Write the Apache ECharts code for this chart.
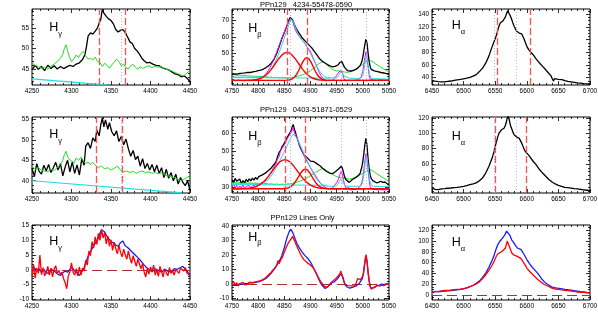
<!DOCTYPE html>
<html><head><meta charset="utf-8">
<script src="https://cdn.jsdelivr.net/npm/echarts@6/dist/echarts.min.js"></script>
<style>html,body{margin:0;padding:0;background:#fff}#c{width:598px;height:321px}</style>
</head><body><div id="c"></div>
<script>
// ---------- tick labels ----------
const xTicksHg = [4250,4300,4350,4400,4450];
const xTicksHb = [4750,4800,4850,4900,4950,5000,5050];
const xTicksHa = [6450,6500,6550,6600,6650,6700];
const yTicksP1 = [45,50,55];
const yTicksP2 = [40,50,60,70];
const yTicksP3 = [40,60,80,100,120,140];
const yTicksP4 = [40,45,50,55];
const yTicksP5 = [30,40,50,60];
const yTicksP6 = [40,60,80,100,120];
const yTicksP7 = [-10,-5,0,5,10,15];
const yTicksP8 = [-10,0,10,20,30,40];
const yTicksP9 = [0,20,40,60,80,100,120];

// ---------- titles ----------
const title1 = 'PPn129   4234-55478-0590';
const title2 = 'PPn129   0403-51871-0529';
const title3 = 'PPn129 Lines Only';

// ---------- Hgamma, spectrum 1 ----------
const hg1Black = [[4250,44.8],[4254,45.9],[4258,44.9],[4262,45.6],[4266,44.6],[4270,45.9],[4274,45.1],[4278,45.8],[4282,45.0],[4286,45.6],[4290,45.1],[4294,45.5],[4298,45.9],[4302,45.6],[4306,46.2],[4310,46.5],[4314,47.3],[4317,48.5],[4319,50.5],[4321,53.0],[4324,53.8],[4327,53.5],[4330,54.2],[4333,55.0],[4335,56.2],[4337,57.0],[4339,59.5],[4341,58.6],[4344,57.8],[4347,57.2],[4350,56.8],[4353,56.0],[4356,54.6],[4359,54.0],[4362,54.4],[4365,54.6],[4368,53.9],[4371,52.8],[4374,51.6],[4377,51.2],[4380,50.0],[4383,49.4],[4386,48.6],[4389,47.6],[4392,47.0],[4395,46.5],[4399,46.6],[4403,46.2],[4407,45.9],[4411,45.8],[4415,45.3],[4419,45.0],[4423,44.8],[4427,44.3],[4431,43.8],[4435,43.6],[4439,43.1],[4443,43.3],[4447,42.6],[4450,41.9]];
const hg1Green = [[4250,46.5],[4254,45.9],[4258,45.6],[4262,45.2],[4266,45.4],[4270,45.0],[4274,45.6],[4278,46.2],[4282,46.8],[4286,47.6],[4289,48.6],[4291,50.0],[4293,50.9],[4295,49.5],[4297,48.0],[4300,46.8],[4303,47.5],[4306,48.4],[4309,47.8],[4312,48.8],[4315,49.3],[4318,48.2],[4321,47.4],[4324,47.6],[4327,47.2],[4330,47.9],[4333,46.8],[4336,46.6],[4339,45.6],[4342,46.4],[4345,45.9],[4348,45.2],[4351,46.0],[4354,46.6],[4357,47.4],[4360,46.8],[4363,45.8],[4366,46.2],[4369,45.3],[4372,45.0],[4375,45.8],[4378,46.1],[4381,45.4],[4384,44.9],[4387,45.6],[4390,45.1],[4394,45.5],[4398,45.8],[4402,45.3],[4406,45.7],[4410,45.4],[4414,45.6],[4418,45.0],[4422,44.8],[4426,44.6],[4430,44.2],[4434,43.9],[4438,43.6],[4442,43.3],[4446,44.0],[4450,44.6]];
const hg1Cyan = [[4250,42.6],[4344,41.15]];
const hg1RedDash = [4334.6,4368];
const hg1BlueDot = [4362.5];

// ---------- Hgamma, spectrum 2 ----------
const hg2Black = [[4250,43.1],[4253,41.0],[4256,44.2],[4259,42.3],[4262,41.6],[4265,43.8],[4268,42.4],[4271,44.0],[4274,42.0],[4277,43.2],[4280,44.5],[4283,42.6],[4286,44.2],[4289,41.2],[4292,43.4],[4295,45.0],[4298,42.2],[4301,44.6],[4304,41.8],[4307,43.9],[4310,41.4],[4313,45.4],[4316,43.8],[4318,48.5],[4321,49.3],[4324,47.9],[4327,50.5],[4330,49.6],[4332,52.4],[4335,51.0],[4337,53.6],[4339,55.4],[4341,53.2],[4343,54.9],[4346,52.6],[4348,54.2],[4351,52.0],[4354,51.0],[4357,52.2],[4360,49.6],[4363,50.8],[4366,48.8],[4369,50.2],[4372,47.8],[4375,46.0],[4378,47.4],[4381,45.2],[4384,46.0],[4387,43.6],[4390,45.4],[4393,43.0],[4396,44.2],[4399,42.6],[4402,44.0],[4405,42.2],[4408,43.8],[4411,41.8],[4414,43.2],[4417,40.8],[4420,42.8],[4423,40.6],[4426,42.0],[4429,40.0],[4432,41.6],[4435,39.2],[4438,40.8],[4441,39.6],[4444,38.8],[4447,40.0],[4450,37.6]];
const hg2Green = [[4250,43.6],[4254,42.8],[4258,43.2],[4262,42.6],[4266,42.4],[4270,42.2],[4274,42.8],[4278,42.5],[4282,43.2],[4286,44.0],[4289,45.0],[4291,46.4],[4293,47.2],[4295,46.0],[4297,45.2],[4300,44.9],[4303,44.3],[4306,45.6],[4309,45.0],[4312,45.8],[4315,44.8],[4318,44.2],[4321,44.6],[4324,43.9],[4327,44.5],[4330,43.8],[4334,43.2],[4338,43.6],[4342,42.9],[4346,43.2],[4350,42.6],[4354,43.0],[4358,43.6],[4362,42.6],[4366,42.2],[4370,42.4],[4374,42.0],[4378,42.3],[4382,41.8],[4386,42.2],[4390,42.4],[4394,41.9],[4398,42.2],[4402,41.8],[4406,42.0],[4410,41.7],[4414,41.9],[4418,41.4],[4422,41.2],[4426,41.0],[4430,40.8],[4434,40.4],[4438,40.1],[4442,40.3],[4446,40.8],[4450,41.2]];
const hg2Cyan = [[4250,40.0],[4440,37.05]];
const hg2RedDash = [4331,4364.5];
const hg2BlueDot = [4362.5];

// ---------- Hgamma, lines only ----------
const hgLineBlue = [[4250,-0.6],[4253,0.8],[4256,-0.4],[4259,0.4],[4262,-0.8],[4265,0.2],[4268,-0.9],[4271,-1.2],[4274,0.3],[4277,-0.2],[4280,-0.8],[4283,-1.5],[4286,-1.9],[4289,-1.0],[4292,-0.4],[4295,-0.8],[4298,0.2],[4301,0.8],[4304,-0.4],[4307,-1.0],[4310,-1.9],[4313,-0.6],[4316,0.8],[4318,2.4],[4321,4.6],[4324,6.2],[4327,7.6],[4330,9.0],[4333,10.2],[4336,12.4],[4338,13.6],[4340,14.2],[4342,12.8],[4344,11.8],[4347,10.6],[4350,9.6],[4353,9.2],[4356,8.4],[4359,8.0],[4362,9.2],[4365,9.8],[4368,8.2],[4371,7.6],[4374,6.8],[4377,6.0],[4380,5.2],[4383,4.4],[4386,3.6],[4389,2.6],[4392,1.6],[4395,0.8],[4398,0.2],[4402,-0.6],[4406,0.4],[4410,-0.2],[4414,-0.8],[4418,0.2],[4422,-0.4],[4426,-0.8],[4430,0.4],[4434,0.2],[4438,0.8],[4441,1.2],[4444,0.2],[4447,-0.6],[4450,-2.4]];
const hgLineRed = [[4250,-2.2],[4252,1.8],[4254,-2.8],[4256,0.6],[4258,-1.2],[4260,5.0],[4262,-1.6],[4264,0.8],[4266,-2.0],[4268,-1.0],[4270,1.2],[4272,-1.8],[4274,0.6],[4276,-2.4],[4278,0.2],[4280,1.4],[4282,-1.2],[4284,-0.2],[4286,-1.6],[4288,-0.8],[4290,-3.0],[4292,-4.4],[4294,-6.4],[4296,-2.0],[4298,-0.6],[4300,2.4],[4302,-0.8],[4304,-1.8],[4306,0.4],[4308,-2.0],[4310,1.0],[4312,-1.8],[4314,0.6],[4316,-0.4],[4318,3.2],[4320,1.6],[4322,6.4],[4324,4.8],[4326,9.6],[4328,7.4],[4330,11.2],[4332,8.6],[4334,12.4],[4336,10.0],[4338,13.6],[4340,10.8],[4342,12.6],[4344,8.8],[4346,11.4],[4348,8.0],[4350,10.2],[4352,6.6],[4354,9.4],[4356,7.2],[4358,5.4],[4360,8.4],[4362,6.0],[4364,4.4],[4366,7.0],[4368,5.2],[4370,3.6],[4372,6.4],[4374,4.0],[4376,2.2],[4378,4.8],[4380,3.0],[4382,1.2],[4384,3.6],[4386,2.0],[4388,0.4],[4390,2.2],[4392,-0.8],[4394,-2.4],[4396,0.6],[4398,-1.4],[4400,1.0],[4402,-0.6],[4404,1.6],[4406,-1.8],[4408,0.2],[4410,-2.2],[4412,1.2],[4414,-0.6],[4416,-2.4],[4418,0.4],[4420,-1.0],[4422,-2.0],[4424,0.8],[4426,-1.2],[4428,-0.2],[4430,-1.8],[4432,0.2],[4434,-0.4],[4436,-1.2],[4438,0.6],[4440,0.2],[4442,-0.4],[4444,0.8],[4446,-1.0],[4448,-0.6],[4450,-2.0]];

// ---------- Hbeta, spectrum 1 ----------
const hb1Black = [[4750,37.2],[4755,37.5],[4760,37.3],[4765,37.8],[4770,37.9],[4775,38.1],[4780,38.4],[4785,38.3],[4790,38.7],[4795,39.0],[4800,39.4],[4805,39.8],[4810,40.4],[4815,41.3],[4820,42.4],[4825,44.0],[4830,46.2],[4835,49.6],[4840,54.0],[4845,58.6],[4850,62.6],[4855,66.8],[4858,69.6],[4861,71.8],[4863,72.6],[4866,70.2],[4869,67.6],[4872,65.6],[4875,63.8],[4878,62.2],[4881,60.8],[4884,59.4],[4887,58.4],[4890,57.4],[4893,56.4],[4896,55.4],[4899,54.4],[4902,53.4],[4905,52.4],[4908,50.8],[4911,49.6],[4914,48.2],[4917,46.8],[4920,45.8],[4923,45.0],[4926,44.4],[4929,43.8],[4932,43.0],[4935,42.6],[4938,42.2],[4941,41.8],[4944,41.9],[4947,42.0],[4950,42.4],[4953,43.0],[4956,44.4],[4958,45.2],[4960,45.0],[4962,43.4],[4965,41.4],[4968,40.2],[4971,39.4],[4974,39.0],[4977,39.2],[4980,39.5],[4983,39.8],[4986,40.2],[4989,40.6],[4992,41.4],[4995,42.6],[4998,44.8],[5000,47.6],[5002,51.6],[5004,55.6],[5006,58.6],[5008,56.2],[5010,50.2],[5012,45.2],[5014,41.8],[5016,40.2],[5019,39.6],[5022,39.3],[5026,39.0],[5030,38.7],[5035,38.3],[5040,38.0],[5045,37.6],[5050,37.1]];
const hb1Magenta = [[4750,33.8],[4753,34.6],[4756,33.2],[4759,34.2],[4762,33.6],[4765,34.8],[4768,33.4],[4771,34.0],[4774,33.2],[4777,34.4],[4780,33.6],[4783,34.0],[4786,33.3],[4789,34.3],[4792,33.8],[4795,34.2],[4798,34.0],[4801,34.6],[4804,35.0],[4807,35.4],[4810,36.0],[4813,37.0],[4816,38.0],[4819,39.4],[4822,41.0],[4825,42.8],[4828,44.8],[4831,47.2],[4834,49.6],[4837,52.0],[4840,54.6],[4843,57.2],[4846,59.6],[4849,62.0],[4852,64.4],[4855,66.6],[4858,68.8],[4861,70.6],[4863,71.6],[4865,70.4],[4867,68.4],[4869,66.0],[4872,63.6],[4875,61.8],[4878,60.4],[4881,59.4],[4884,58.0],[4887,56.8],[4890,55.8],[4893,54.2],[4896,53.2],[4899,51.4],[4902,49.6],[4905,47.2],[4908,45.0],[4911,42.6],[4914,40.2],[4917,38.2],[4920,36.4],[4923,35.0],[4926,34.0],[4929,33.2],[4932,32.8],[4935,33.6],[4938,32.6],[4941,33.4],[4944,34.2],[4947,35.2],[4950,36.6],[4953,37.6],[4956,39.2],[4958,40.2],[4960,39.0],[4962,37.0],[4964,34.6],[4967,33.2],[4970,32.8],[4973,33.6],[4976,32.8],[4979,33.4],[4982,32.9],[4985,33.6],[4988,33.0],[4991,33.8],[4994,34.4],[4997,35.8],[5000,39.0],[5002,43.4],[5004,47.6],[5006,50.8],[5008,47.0],[5010,41.6],[5012,37.0],[5014,34.2],[5017,33.2],[5020,33.8],[5023,32.9],[5026,33.6],[5029,33.0],[5032,34.0],[5035,33.2],[5038,33.8],[5041,33.0],[5044,33.6],[5047,33.2],[5050,33.8]];
const hb1Cyan = [[4750,35.6],[4770,35.5],[4790,35.4],[4800,35.4],[4805,35.6],[4810,36.0],[4815,36.8],[4820,38.2],[4825,40.2],[4830,43.0],[4835,46.4],[4840,50.4],[4845,54.8],[4850,59.4],[4855,63.8],[4859,67.6],[4862,70.0],[4864,70.8],[4866,70.2],[4868,68.6],[4871,66.0],[4874,63.4],[4877,61.2],[4880,59.8],[4884,58.2],[4888,56.4],[4892,54.4],[4896,52.2],[4900,49.8],[4904,47.2],[4908,44.6],[4912,42.0],[4916,39.8],[4920,38.0],[4924,36.6],[4928,35.7],[4932,35.2],[4940,35.0],[4948,35.0],[4952,35.6],[4955,37.0],[4958,39.0],[4961,38.4],[4964,36.2],[4967,35.0],[4975,34.8],[4990,34.7],[4997,35.0],[5000,36.6],[5003,41.4],[5005,45.8],[5007,48.6],[5009,46.0],[5011,41.0],[5013,37.0],[5016,35.0],[5020,34.6],[5035,34.4],[5050,34.3]];
const hb1CyanFlat = [[4750,35.2],[4938,34.9]];
const hb1Green = [[4750,37.0],[4755,36.9],[4760,36.6],[4765,36.8],[4770,36.4],[4775,36.6],[4780,36.2],[4785,36.3],[4790,35.9],[4795,36.1],[4800,35.8],[4805,35.9],[4810,35.6],[4815,35.8],[4820,35.4],[4825,35.5],[4830,35.2],[4835,35.4],[4840,35.0],[4845,35.2],[4850,35.0],[4855,34.8],[4860,35.0],[4865,35.3],[4870,35.6],[4875,36.0],[4880,36.4],[4885,36.9],[4890,37.6],[4895,38.4],[4900,39.4],[4905,40.6],[4910,42.0],[4915,43.4],[4920,44.4],[4924,45.2],[4927,44.8],[4930,43.6],[4933,42.6],[4936,41.6],[4940,40.6],[4945,39.8],[4950,39.2],[4955,39.4],[4960,38.9],[4965,38.6],[4970,38.4],[4975,38.8],[4980,39.0],[4985,39.8],[4990,41.0],[4995,42.2],[5000,43.4],[5005,44.6],[5010,45.6],[5015,45.4],[5020,44.6],[5025,43.4],[5030,42.4],[5035,41.4],[5040,40.4],[5045,39.6],[5050,38.6]];
const hb1RedBroad = [[4750,33.5],[4780,33.55],[4790,33.7],[4795,33.9],[4800,34.2],[4805,34.8],[4810,35.6],[4815,36.8],[4820,38.3],[4825,40.2],[4830,42.4],[4835,44.8],[4840,47.0],[4845,48.8],[4850,50.1],[4855,50.5],[4860,50.1],[4865,48.8],[4870,47.0],[4875,44.8],[4880,42.4],[4885,40.2],[4890,38.3],[4895,36.8],[4900,35.6],[4905,34.8],[4910,34.2],[4915,33.9],[4920,33.7],[4930,33.55],[4960,33.5],[5050,33.5]];
const hb1RedNarrow = [[4750,33.5],[4849,33.5],[4857,33.65],[4861,33.9],[4865,34.4],[4869,35.4],[4873,36.9],[4877,39.2],[4881,41.9],[4885,44.6],[4889,46.6],[4893,47.3],[4897,46.6],[4901,44.6],[4905,41.9],[4909,39.2],[4913,36.9],[4917,35.4],[4921,34.4],[4925,33.9],[4929,33.65],[4937,33.5],[5050,33.5]];
const hb1RedDash = [4855,4893];
const hb1BlueDot = [4861,4959,5007];

// ---------- Hbeta, spectrum 2 ----------
const hb2Black = [[4750,34.2],[4753,32.6],[4756,35.0],[4759,33.4],[4762,32.8],[4765,34.6],[4768,32.2],[4771,33.8],[4774,32.6],[4777,34.4],[4780,33.2],[4783,34.8],[4786,33.6],[4789,35.2],[4792,34.0],[4795,35.6],[4798,34.4],[4801,36.0],[4804,35.0],[4807,36.8],[4810,35.8],[4813,37.8],[4816,37.0],[4819,39.2],[4822,38.4],[4825,40.8],[4828,40.2],[4831,43.0],[4834,44.2],[4837,47.0],[4840,49.4],[4843,50.6],[4846,52.8],[4849,54.0],[4852,55.8],[4855,57.6],[4858,59.0],[4861,60.4],[4863,61.6],[4865,63.6],[4867,65.0],[4869,62.4],[4871,60.8],[4873,58.6],[4876,56.0],[4879,53.2],[4882,51.2],[4885,49.4],[4888,48.0],[4891,47.0],[4894,46.4],[4897,45.4],[4900,44.6],[4903,45.6],[4906,44.4],[4909,43.8],[4912,43.2],[4915,42.4],[4918,42.0],[4921,41.2],[4924,40.4],[4927,39.6],[4930,39.0],[4933,38.4],[4936,38.0],[4939,37.4],[4942,37.6],[4945,38.2],[4948,38.8],[4951,39.6],[4954,40.4],[4957,41.4],[4959,41.8],[4961,40.6],[4963,38.4],[4965,36.0],[4968,34.2],[4971,33.4],[4974,32.8],[4977,33.8],[4980,34.4],[4983,35.0],[4986,35.4],[4989,36.0],[4992,36.8],[4995,38.0],[4998,41.2],[5000,44.4],[5002,49.0],[5004,54.0],[5006,57.4],[5008,53.0],[5010,46.0],[5012,40.6],[5014,36.8],[5016,35.0],[5019,33.8],[5022,33.2],[5026,32.6],[5030,32.8],[5034,33.4],[5038,32.8],[5042,33.0],[5046,32.2],[5050,31.6]];
const hb2Magenta = [[4750,30.4],[4753,32.0],[4756,29.6],[4759,31.2],[4762,29.2],[4765,30.8],[4768,29.6],[4771,31.4],[4774,29.4],[4777,30.6],[4780,29.8],[4783,31.0],[4786,29.6],[4789,30.8],[4792,30.2],[4795,31.4],[4798,30.4],[4801,31.6],[4804,31.0],[4807,32.4],[4810,32.2],[4813,33.6],[4816,34.2],[4819,35.8],[4822,36.4],[4825,38.6],[4828,39.4],[4831,41.8],[4834,43.4],[4837,45.8],[4840,47.2],[4843,50.6],[4846,50.0],[4849,53.2],[4852,54.4],[4855,56.8],[4858,57.8],[4861,59.6],[4864,61.0],[4866,63.6],[4868,61.4],[4870,60.4],[4873,58.0],[4876,56.2],[4879,53.4],[4882,51.6],[4885,49.6],[4888,47.4],[4891,45.8],[4894,44.0],[4897,42.6],[4900,41.0],[4903,39.6],[4906,38.0],[4909,36.8],[4912,35.2],[4915,34.0],[4918,32.8],[4921,31.8],[4924,30.8],[4927,30.2],[4930,29.6],[4933,30.4],[4936,29.4],[4939,30.2],[4942,29.6],[4945,30.8],[4948,31.6],[4951,33.0],[4954,35.2],[4957,37.6],[4959,39.2],[4961,37.0],[4963,34.0],[4965,31.6],[4968,29.6],[4971,28.8],[4974,29.8],[4977,28.6],[4980,29.4],[4983,28.8],[4986,29.8],[4989,29.2],[4992,30.0],[4995,30.6],[4998,32.6],[5000,35.6],[5002,40.0],[5004,45.0],[5006,48.6],[5008,45.2],[5010,39.4],[5012,34.0],[5014,30.6],[5017,29.0],[5020,29.8],[5023,28.8],[5026,29.6],[5029,28.6],[5032,29.4],[5035,28.8],[5038,29.8],[5041,28.6],[5044,29.4],[5047,28.8],[5050,29.6]];
const hb2Cyan = [[4750,32.4],[4770,32.2],[4790,32.0],[4800,32.0],[4805,32.2],[4810,32.6],[4815,33.4],[4820,34.6],[4825,36.4],[4830,38.6],[4835,41.2],[4840,44.0],[4845,47.0],[4850,50.0],[4855,53.0],[4860,56.2],[4864,58.4],[4867,59.6],[4870,59.2],[4873,57.8],[4876,56.0],[4880,53.6],[4884,51.2],[4888,48.6],[4892,46.0],[4896,43.4],[4900,40.8],[4904,38.4],[4908,36.2],[4912,34.4],[4916,33.0],[4920,32.0],[4925,31.2],[4930,30.8],[4940,30.6],[4948,30.8],[4952,31.6],[4955,33.2],[4958,34.6],[4961,33.6],[4964,31.6],[4968,30.7],[4980,30.6],[4995,30.7],[4999,32.0],[5002,37.0],[5005,44.6],[5007,48.0],[5009,45.0],[5011,39.0],[5013,34.0],[5016,31.2],[5020,30.6],[5035,30.5],[5050,30.4]];
const hb2CyanFlat = [[4750,31.6],[4932,31.2]];
const hb2Green = [[4750,32.6],[4755,32.8],[4760,32.4],[4765,32.9],[4770,32.5],[4775,32.8],[4780,32.3],[4785,32.6],[4790,32.2],[4795,32.5],[4800,32.1],[4805,32.4],[4810,32.0],[4815,32.2],[4820,31.8],[4825,32.0],[4830,31.7],[4835,31.9],[4840,31.6],[4845,31.8],[4850,31.7],[4855,31.9],[4860,32.0],[4865,32.3],[4870,32.6],[4875,33.0],[4880,33.5],[4885,34.1],[4890,34.8],[4895,35.6],[4900,36.5],[4905,37.4],[4910,38.4],[4915,39.3],[4920,40.0],[4924,40.6],[4927,40.4],[4930,39.6],[4934,38.8],[4938,38.0],[4942,37.2],[4946,36.6],[4950,36.0],[4955,35.6],[4960,35.3],[4965,35.0],[4970,34.8],[4975,34.6],[4980,35.0],[4985,35.6],[4990,36.2],[4995,37.0],[5000,37.8],[5005,38.6],[5010,39.4],[5014,39.8],[5018,39.4],[5022,38.6],[5026,37.8],[5030,37.0],[5035,36.0],[5040,35.2],[5045,34.2],[5050,33.4]];
const hb2RedBroad = [[4750,29.3],[4761,29.3],[4771,29.35],[4781,29.5],[4786,29.7],[4791,30.0],[4796,30.5],[4801,31.1],[4806,32.1],[4811,33.3],[4816,34.85],[4821,36.7],[4826,38.65],[4831,40.7],[4836,42.55],[4841,44.1],[4846,45.05],[4851,45.4],[4856,45.05],[4861,44.1],[4866,42.55],[4871,40.7],[4876,38.65],[4881,36.7],[4886,34.85],[4891,33.3],[4896,32.1],[4901,31.1],[4906,30.5],[4911,30.0],[4916,29.7],[4921,29.5],[4931,29.35],[4941,29.3],[5050,29.3]];
const hb2RedNarrow = [[4750,29.3],[4846,29.3],[4854,29.5],[4858,29.8],[4862,30.4],[4866,31.3],[4870,32.6],[4874,34.4],[4878,36.4],[4882,38.3],[4886,39.7],[4890,40.2],[4894,39.7],[4898,38.3],[4902,36.4],[4906,34.4],[4910,32.6],[4914,31.3],[4918,30.4],[4922,29.8],[4926,29.5],[4934,29.3],[5050,29.3]];
const hb2RedDash = [4851,4889.5];
const hb2BlueDot = [4861,4959,5007];

// ---------- Hbeta, lines only ----------
const hbLineBlue = [[4750,-1.0],[4755,-0.6],[4760,-0.8],[4765,0.2],[4770,-0.2],[4775,0.6],[4780,0.4],[4785,1.0],[4790,0.8],[4795,1.4],[4800,1.6],[4805,2.2],[4810,3.0],[4815,4.0],[4820,5.6],[4825,7.6],[4830,10.0],[4835,12.8],[4840,15.6],[4845,19.4],[4850,25.0],[4853,29.4],[4856,33.0],[4859,35.8],[4862,37.8],[4864,37.2],[4866,35.6],[4868,33.6],[4871,30.8],[4874,28.2],[4877,26.0],[4880,24.2],[4883,22.6],[4886,21.2],[4889,19.8],[4892,18.6],[4895,17.6],[4898,16.2],[4901,14.6],[4904,12.4],[4907,10.2],[4910,8.0],[4913,5.6],[4916,3.2],[4919,1.0],[4922,-0.8],[4925,-2.0],[4928,-3.0],[4931,-2.6],[4934,-1.4],[4937,-0.2],[4940,0.8],[4943,1.2],[4946,1.8],[4949,2.8],[4952,3.8],[4955,5.0],[4958,7.2],[4960,6.8],[4962,4.8],[4964,2.2],[4966,0.0],[4969,-1.8],[4972,-2.6],[4975,-2.8],[4978,-2.4],[4981,-2.0],[4984,-1.6],[4987,-1.2],[4990,-0.6],[4993,0.4],[4996,1.6],[4999,3.8],[5001,7.6],[5003,12.6],[5005,17.2],[5006,19.0],[5008,15.6],[5010,8.2],[5012,2.6],[5014,-1.4],[5016,-2.8],[5019,-3.0],[5022,-2.4],[5025,-1.6],[5028,-0.8],[5032,-0.6],[5036,0.0],[5040,-0.4],[5045,0.2],[5050,0.6]];
const hbLineRed = [[4750,0.2],[4753,1.8],[4756,-0.6],[4759,1.0],[4762,-1.2],[4765,0.4],[4768,-0.8],[4771,1.2],[4774,-0.4],[4777,0.8],[4780,-0.2],[4783,1.4],[4786,0.2],[4789,1.0],[4792,0.4],[4795,1.6],[4798,0.8],[4801,2.0],[4804,1.6],[4807,2.8],[4810,3.4],[4813,4.0],[4816,5.0],[4819,6.2],[4822,7.0],[4825,8.2],[4828,9.6],[4831,10.8],[4834,12.0],[4836,13.6],[4838,16.4],[4840,14.0],[4843,16.6],[4846,18.4],[4849,21.2],[4852,23.8],[4855,26.4],[4858,28.6],[4861,30.2],[4864,31.4],[4866,32.8],[4868,31.0],[4870,29.6],[4872,27.6],[4875,25.2],[4878,22.8],[4881,20.6],[4884,18.6],[4887,17.0],[4890,15.8],[4893,15.0],[4896,14.4],[4899,13.4],[4902,12.6],[4905,11.4],[4908,9.6],[4911,7.6],[4914,5.4],[4917,3.4],[4920,1.6],[4923,0.2],[4926,-1.4],[4929,-2.6],[4932,-2.2],[4935,-0.8],[4938,0.6],[4941,1.8],[4944,2.6],[4947,3.4],[4950,4.4],[4953,5.6],[4956,7.0],[4958,9.0],[4960,6.6],[4962,3.8],[4964,1.4],[4966,-0.6],[4969,-1.6],[4972,-1.0],[4975,-0.2],[4978,-1.2],[4981,-0.6],[4984,-1.4],[4987,0.4],[4990,3.8],[4993,4.6],[4996,3.2],[4999,3.6],[5001,6.4],[5003,12.8],[5005,18.6],[5006,20.4],[5008,16.0],[5010,8.4],[5012,2.2],[5014,-1.8],[5016,-3.4],[5019,-3.0],[5022,-2.0],[5025,-1.2],[5028,-0.8],[5032,-1.4],[5036,-0.6],[5040,-1.0],[5045,-0.2],[5050,0.8]];

// ---------- Halpha, spectrum 1 ----------
const ha1Black = [[6450,35.3],[6455,34.4],[6460,33.7],[6465,33.4],[6470,33.2],[6475,34.0],[6480,34.7],[6485,35.8],[6490,36.6],[6495,37.2],[6500,38.2],[6505,39.2],[6510,40.6],[6515,42.4],[6520,44.8],[6525,49.6],[6530,55.0],[6535,62.8],[6540,74.0],[6545,88.6],[6548,96.4],[6551,104.2],[6554,114.2],[6556,121.6],[6558,126.4],[6560,128.2],[6562,129.4],[6564,131.8],[6566,135.6],[6568,141.2],[6570,146.0],[6572,141.4],[6574,137.4],[6576,132.2],[6578,126.4],[6580,121.2],[6582,117.0],[6584,113.4],[6586,111.2],[6588,110.4],[6590,111.0],[6592,109.0],[6594,104.6],[6596,100.2],[6598,94.6],[6600,89.4],[6603,84.2],[6606,80.6],[6610,76.2],[6615,69.4],[6620,63.2],[6625,57.8],[6630,52.4],[6635,46.6],[6638,43.2],[6640,41.0],[6642,34.6],[6644,38.4],[6647,39.2],[6650,37.4],[6653,38.2],[6656,37.0],[6660,35.4],[6665,34.2],[6670,33.4],[6675,32.6],[6680,31.8],[6685,31.2],[6690,30.6],[6695,30.2],[6700,30.0]];
const ha1RedDash = [6553.6,6604.9];
const ha1BlueDot = [6548.3,6583.2];

// ---------- Halpha, spectrum 2 ----------
const ha2Black = [[6450,28.7],[6455,27.0],[6460,26.5],[6465,27.6],[6470,27.8],[6475,28.4],[6480,28.7],[6485,29.2],[6490,29.6],[6495,30.2],[6500,30.9],[6505,31.8],[6510,33.0],[6515,34.0],[6520,35.4],[6525,38.2],[6530,41.8],[6535,48.2],[6540,56.8],[6545,67.4],[6548,75.8],[6550,83.0],[6552,89.0],[6554,95.4],[6556,100.2],[6558,102.4],[6560,104.6],[6562,105.8],[6564,106.6],[6566,110.2],[6568,115.8],[6569,119.8],[6571,123.0],[6572,118.6],[6574,110.6],[6576,106.4],[6578,101.6],[6580,98.2],[6582,96.4],[6584,95.2],[6586,94.6],[6588,93.4],[6590,90.8],[6592,87.2],[6594,83.0],[6596,78.8],[6598,76.0],[6600,74.2],[6603,71.6],[6606,69.0],[6610,63.6],[6615,58.8],[6620,52.8],[6625,48.2],[6630,44.0],[6635,39.8],[6640,36.6],[6645,34.0],[6650,32.2],[6655,30.8],[6660,29.6],[6665,29.2],[6670,28.6],[6675,28.0],[6680,27.6],[6685,27.0],[6690,26.4],[6695,25.8],[6700,25.2]];
const ha2RedDash = [6549.4,6599.6];
const ha2BlueDot = [6548.3,6583.2];

// ---------- Halpha, lines only ----------
const haLineBlue = [[6450,5.8],[6455,6.6],[6460,6.0],[6465,6.8],[6470,7.2],[6475,7.8],[6480,8.4],[6485,9.0],[6490,9.6],[6495,10.4],[6500,11.6],[6505,13.2],[6510,15.4],[6515,18.2],[6520,21.6],[6525,25.8],[6530,32.6],[6535,40.6],[6540,51.4],[6545,63.8],[6548,72.6],[6551,84.0],[6554,93.0],[6557,99.2],[6560,103.0],[6563,107.6],[6566,113.4],[6568,118.6],[6569,121.4],[6571,117.8],[6573,111.2],[6576,102.4],[6579,97.6],[6582,92.0],[6585,87.2],[6588,85.0],[6591,84.2],[6593,81.4],[6596,74.6],[6600,65.8],[6604,58.8],[6608,52.4],[6612,47.2],[6616,42.0],[6620,35.8],[6624,29.2],[6628,24.4],[6632,20.4],[6636,17.6],[6640,14.6],[6644,13.6],[6648,12.8],[6652,12.2],[6656,11.6],[6660,10.6],[6665,9.8],[6670,9.2],[6675,8.2],[6680,7.4],[6685,6.4],[6690,5.6],[6695,4.8],[6700,4.2]];
const haLineRed = [[6450,5.2],[6455,6.2],[6460,6.8],[6465,7.6],[6470,8.4],[6475,8.8],[6480,9.2],[6485,9.8],[6490,10.4],[6495,11.0],[6500,11.8],[6505,13.4],[6510,15.4],[6515,17.8],[6520,20.4],[6525,24.4],[6530,30.4],[6535,37.6],[6540,45.8],[6545,55.2],[6548,61.8],[6551,70.0],[6554,76.0],[6557,78.8],[6560,80.2],[6563,82.4],[6566,86.8],[6568,95.0],[6569,100.0],[6571,96.4],[6573,88.0],[6576,78.4],[6579,74.6],[6582,72.4],[6585,71.6],[6588,70.6],[6591,67.4],[6594,62.0],[6597,56.4],[6600,50.0],[6604,44.6],[6608,39.4],[6612,34.8],[6616,30.2],[6620,26.6],[6624,22.6],[6628,19.6],[6632,17.2],[6636,15.0],[6640,12.6],[6645,11.2],[6650,10.4],[6655,9.4],[6660,8.6],[6665,8.0],[6670,7.4],[6675,6.6],[6680,5.6],[6685,5.2],[6690,4.8],[6695,4.2],[6700,3.8]];

// ---------- styling / layout ----------
const FONT = '"Liberation Sans", Arial, Helvetica, sans-serif';
const C = {black:'#000000', green:'#22dd22', cyan:'#22dddd', magenta:'#ff00ff', red:'#ff0000', blue:'#1a1aff', redDash:'#ff5050', blueDot:'#a8a8ff', zero:'#a83232'};

const panels = [
 {g:[32,9,158,76],  x:[4250,4450], y:[41.1,59.6],  xt:xTicksHg, yt:yTicksP1, xs:10, ys:1, h:[49.3,22.7], sub:'\u03b3',
  lines:[[hg1Black,C.black,1.3,3],[hg1Green,C.green,1,4],[hg1Cyan,C.cyan,1.2,4]], red:hg1RedDash, blue:hg1BlueDot},
 {g:[232,9,157,76], x:[4750,5050], y:[30.7,76.9],  xt:xTicksHb, yt:yTicksP2, xs:10, ys:2, h:[248.3,23.3], sub:'\u03b2',
  lines:[[hb1Green,C.green,1,2],[hb1Black,C.black,1.3,3],[hb1Magenta,C.magenta,1,4],[hb1CyanFlat,C.cyan,1,5],[hb1Cyan,C.cyan,1,5],[hb1RedBroad,C.red,1.4,6],[hb1RedNarrow,C.red,1.4,6]], red:hb1RedDash, blue:hb1BlueDot},
 {g:[432,9,158,76], x:[6450,6700], y:[28.4,148.4], xt:xTicksHa, yt:yTicksP3, xs:10, ys:5, h:[451.7,20.7], sub:'\u03b1',
  lines:[[ha1Black,C.black,1.3,3]], red:ha1RedDash, blue:ha1BlueDot},
 {g:[32,117,158,76],  x:[4250,4450], y:[37.0,55.6],  xt:xTicksHg, yt:yTicksP4, xs:10, ys:1, h:[49.3,129.5], sub:'\u03b3',
  lines:[[hg2Black,C.black,1.3,3],[hg2Green,C.green,1,4],[hg2Cyan,C.cyan,1.2,4]], red:hg2RedDash, blue:hg2BlueDot},
 {g:[232,117,157,76], x:[4750,5050], y:[26.9,69.1],  xt:xTicksHb, yt:yTicksP5, xs:10, ys:2, h:[248.3,131.5], sub:'\u03b2',
  lines:[[hb2Green,C.green,1,2],[hb2Black,C.black,1.3,3],[hb2Magenta,C.magenta,1,4],[hb2CyanFlat,C.cyan,1,5],[hb2Cyan,C.cyan,1,5],[hb2RedBroad,C.red,1.4,6],[hb2RedNarrow,C.red,1.4,6]], red:hb2RedDash, blue:hb2BlueDot},
 {g:[432,117,158,76], x:[6450,6700], y:[22.2,121.3], xt:xTicksHa, yt:yTicksP6, xs:10, ys:5, h:[451.7,131.5], sub:'\u03b1',
  lines:[[ha2Black,C.black,1.3,3]], red:ha2RedDash, blue:ha2BlueDot},
 {g:[32,225,158,75],  x:[4250,4450], y:[-10.2,15.2], xt:xTicksHg, yt:yTicksP7, xs:10, ys:1, h:[49.3,236.7], sub:'\u03b3',
  lines:[[hgLineBlue,C.blue,1.3,3],[hgLineRed,C.red,1.3,4]], zero:true},
 {g:[232,225,157,75], x:[4750,5050], y:[-10.9,40.7], xt:xTicksHb, yt:yTicksP8, xs:10, ys:2, h:[248.3,232.2], sub:'\u03b2',
  lines:[[hbLineBlue,C.blue,1.3,3],[hbLineRed,C.red,1.3,4]], zero:true},
 {g:[432,225,158,75], x:[6450,6700], y:[-9.2,129.8], xt:xTicksHa, yt:yTicksP9, xs:10, ys:5, h:[451.7,237.3], sub:'\u03b1',
  lines:[[haLineBlue,C.blue,1.3,3],[haLineRed,C.red,1.3,4]], zero:true}
];

function minorVals(min, max, step, majors) {
  const out = [];
  for (let k = Math.ceil(min / step - 1e-9); k * step <= max + 1e-9; k++) {
    const v = +(k * step).toFixed(6);
    if (!majors.includes(v)) out.push(v);
  }
  return out;
}
function axisSet(arr, dim, gi, range, majors, minors) {
  const pos = dim === 'x' ? ['bottom','top'] : ['left','right'];
  const base = {type:'value', gridIndex:gi, min:range[0], max:range[1], scale:true,
    axisLine:{show:false, onZero:false}, splitLine:{show:false}, splitArea:{show:false},
    minorTick:{show:false}, minorSplitLine:{show:false}, axisPointer:{show:false}, silent:true};
  const tick = (vals, len) => ({show:true, inside:true, length:len, customValues:vals, lineStyle:{color:'#000', width:0.8}});
  arr.push(Object.assign({}, base, {position:pos[0], axisTick:tick(majors,4),
    axisLabel:{show:true, customValues:majors, formatter:(v)=>String(v), fontSize:6.5, fontFamily:FONT, color:'#000', margin:3}}));
  arr.push(Object.assign({}, base, {position:pos[0], axisTick:tick(minors,2), axisLabel:{show:false}}));
  arr.push(Object.assign({}, base, {position:pos[1], axisTick:tick(majors,4), axisLabel:{show:false}}));
  arr.push(Object.assign({}, base, {position:pos[1], axisTick:tick(minors,2), axisLabel:{show:false}}));
}

const grids = [], xAxes = [], yAxes = [], series = [], graphics = [];
panels.forEach((p, i) => {
  grids.push({left:p.g[0], top:p.g[1], width:p.g[2], height:p.g[3], show:true, borderColor:'#000', borderWidth:1,
    backgroundColor:'rgba(0,0,0,0)', containLabel:false, outerBoundsMode:'none'});
  axisSet(xAxes, 'x', i, p.x, p.xt, minorVals(p.x[0], p.x[1], p.xs, p.xt));
  axisSet(yAxes, 'y', i, p.y, p.yt, minorVals(p.y[0], p.y[1], p.ys, p.yt));
  const ax = {xAxisIndex:4*i, yAxisIndex:4*i, silent:true, animation:false};
  if (p.zero) {
    series.push(Object.assign({type:'line', data:[], z:1, markLine:{silent:true, z:1, symbol:['none','none'], animation:false,
      label:{show:false}, emphasis:{disabled:true}, lineStyle:{color:C.zero, type:[10,5], width:1.2}, data:[{yAxis:0}]}}, ax));
  }
  p.lines.forEach(l => {
    series.push(Object.assign({type:'line', data:l[0], showSymbol:false, symbol:'none', z:l[3], clip:true,
      lineStyle:{color:l[1], width:l[2]}, emphasis:{disabled:true}}, ax));
  });
  if (p.blue) {
    series.push(Object.assign({type:'line', data:[], z:9, markLine:{silent:true, z:9, symbol:['none','none'], animation:false,
      label:{show:false}, emphasis:{disabled:true}, lineStyle:{color:C.blueDot, type:[1,2], width:0.9}, data:p.blue.map(v=>({xAxis:v}))}}, ax));
  }
  if (p.red) {
    series.push(Object.assign({type:'line', data:[], z:10, markLine:{silent:true, z:10, symbol:['none','none'], animation:false,
      label:{show:false}, emphasis:{disabled:true}, lineStyle:{color:C.redDash, type:[7,3], width:1.3}, data:p.red.map(v=>({xAxis:v}))}}, ax));
  }
  graphics.push({type:'text', x:p.h[0], y:p.h[1]-1.5, silent:true, z:100,
    style:{text:'H', fill:'#000', font:'12.5px ' + FONT, verticalAlign:'top', textVerticalAlign:'top'}});
  graphics.push({type:'text', x:p.h[0]+9, y:p.h[1]+7.2, silent:true, z:100,
    style:{text:p.sub, fill:'#000', font:'7.5px ' + FONT, verticalAlign:'top', textVerticalAlign:'top'}});
});
[[title1,306,4.5],[title2,306,110.3],[title3,302.5,218.2]].forEach(t => {
  graphics.push({type:'text', x:t[1], y:t[2], silent:true, z:100,
    style:{text:t[0], fill:'#000', font:'7.5px ' + FONT, align:'center', textAlign:'center', verticalAlign:'middle', textVerticalAlign:'middle'}});
});

const chart = echarts.init(document.getElementById('c'), null, {renderer:'canvas', width:598, height:321});
chart.setOption({
  animation:false,
  backgroundColor:'#ffffff',
  textStyle:{fontFamily:FONT},
  grid:grids, xAxis:xAxes, yAxis:yAxes, series:series, graphic:graphics
});
</script></body></html>
